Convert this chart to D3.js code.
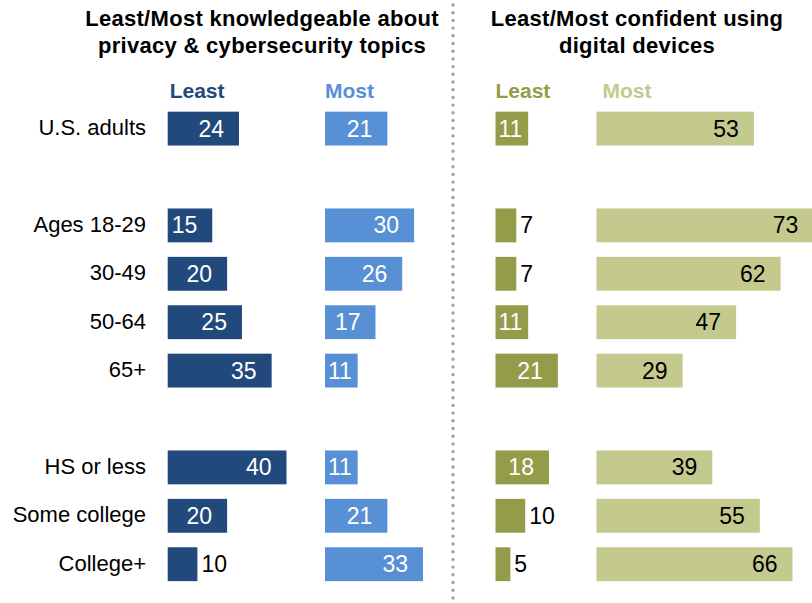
<!DOCTYPE html>
<html><head><meta charset="utf-8">
<script src="https://cdn.jsdelivr.net/npm/d3@7"></script>
<style>
html,body{margin:0;padding:0;background:#fff;}
svg{display:block;font-family:"Liberation Sans",Arial,sans-serif;}
</style></head>
<body>
<svg id="chart" width="812" height="603"></svg>
<script>
const categories = ["U.S. adults","Ages 18-29","30-49","50-64","65+","HS or less","Some college","College+"];
const groups = [0,1,1,1,1,2,2,2];
const leastKnowledge = [24,15,20,25,35,40,20,10];
const mostKnowledge = [21,30,26,17,11,11,21,33];
const leastConfident = [11,7,7,11,21,18,10,5];
const mostConfident = [53,73,62,47,29,39,55,66];
const titles = [["Least/Most knowledgeable about","privacy & cybersecurity topics"],["Least/Most confident using","digital devices"]];
const seriesNames = ["Least","Most","Least","Most"];

const svg = d3.select("#chart");
const W = 812, H = 603;

// row slots with gaps between groups
const slots = [];
categories.forEach((c,i)=>{ if(i>0 && groups[i]!==groups[i-1]) slots.push("gap"+i); slots.push(c); });
const y = d3.scaleBand().domain(slots).range([104.4, 588.4]).paddingInner(0.3).paddingOuter(0.15);

const unit = 2.97;
const cols = [
  {vals:leastKnowledge, x0:167.7, fill:"#22497b", text:"#fff", head:"#22497b", hx:2},
  {vals:mostKnowledge, x0:325, fill:"#5890d5", text:"#fff", head:"#5890d5", hx:0},
  {vals:leastConfident, x0:495.5, fill:"#959c49", text:"#fff", head:"#959c49", hx:0},
  {vals:mostConfident, x0:596.5, fill:"#c4ca8e", text:"#000", head:"#c4ca8e", hx:6}
];
cols.forEach((c,ci)=>{
  c.x = d3.scaleLinear().domain([0,100]).range([c.x0, c.x0 + 100*unit]);
  const g = svg.append("g");
  g.selectAll("rect").data(c.vals).join("rect")
    .attr("x", c.x(0)).attr("y",(d,i)=>y(categories[i]))
    .attr("width", d=>c.x(d)-c.x(0)).attr("height", y.bandwidth())
    .attr("fill", c.fill);
  g.selectAll("text.val").data(c.vals).join("text").attr("class","val")
    .attr("font-size",23)
    .attr("y",(d,i)=>y(categories[i])+y.bandwidth()/2)
    .attr("dy","0.35em")
    .text(d=>d)
    .each(function(d){
      const t = d3.select(this);
      if (d >= 11) {
        t.attr("fill", c.text).attr("text-anchor","start");
        const w = this.getComputedTextLength();
        let xs = c.x(d) - 15 - w;
        if (xs < c.x(0) + 3) xs = c.x(0) + 3;
        t.attr("x", xs);
      } else {
        t.attr("fill","#000").attr("text-anchor","start").attr("x", c.x(d)+4);
      }
    });
  svg.append("text").attr("x", c.x(0)+c.hx).attr("y",97.5)
    .attr("font-size",21).attr("font-weight","bold").attr("fill",c.head)
    .text(seriesNames[ci]);
});

// category labels
svg.append("g").selectAll("text").data(categories).join("text")
  .attr("x",146).attr("y",d=>y(d)+y.bandwidth()/2).attr("dy","0.3em")
  .attr("text-anchor","end").attr("font-size",22).attr("fill","#000")
  .text(d=>d);

// titles
const tcx = [262, 637];
titles.forEach((lines,ti)=>{
  lines.forEach((l,li)=>{
    svg.append("text").attr("x",tcx[ti]).attr("y",26+li*27)
      .attr("text-anchor","middle").attr("font-size",22).attr("font-weight","bold")
      .attr("letter-spacing","0.3px")
      .attr("fill","#000").text(l);
  });
});

// dotted divider
svg.append("line").attr("x1",453).attr("x2",453).attr("y1",5).attr("y2",H)
  .attr("stroke","#a0a0a0").attr("stroke-width",3.4)
  .attr("stroke-linecap","round").attr("stroke-dasharray","0 7.7");
</script>
</body></html>
